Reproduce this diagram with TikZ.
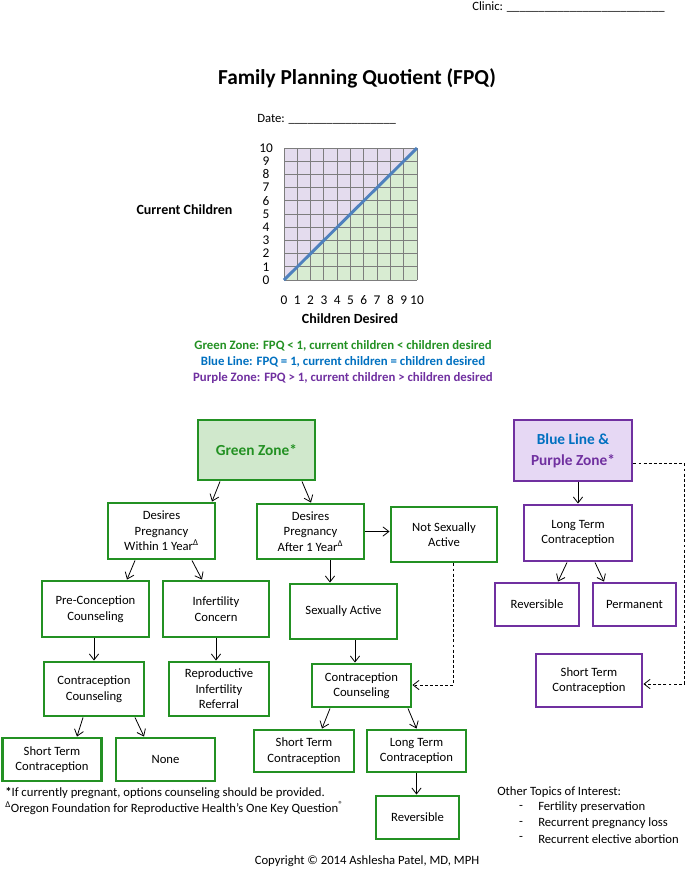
\documentclass[tikz,border=0pt]{standalone}
\usepackage{fontspec}
\setmainfont{Carlito}
\usepackage{xcolor}
\usetikzlibrary{arrows.meta}
\definecolor{zonegreen}{RGB}{35,145,35}
\definecolor{zonegreenfill}{RGB}{208,232,204}
\definecolor{zonepurple}{RGB}{112,48,160}
\definecolor{zonepurplefill}{RGB}{230,216,244}
\definecolor{lineblue}{RGB}{0,112,192}
\definecolor{chartblue}{RGB}{79,129,189}
\definecolor{chartpurple}{RGB}{228,220,238}
\definecolor{chartgreen}{RGB}{216,236,210}
\definecolor{gridgray}{RGB}{125,125,125}

\begin{document}
\begin{tikzpicture}[
  x=0.75pt, y=-0.75pt,
  box/.style={
    rectangle, line width=2.2pt, fill=white,
    align=center, inner sep=2pt,
    font=\fontsize{9.5}{11.6}\selectfont
  },
  gbox/.style={box,draw=zonegreen},
  pbox/.style={box,draw=zonepurple},
  zonebox/.style={font=\fontsize{11.5}{15.5}\selectfont\bfseries},
  sz/.style 2 args={minimum width=#1*0.75pt,minimum height=#2*0.75pt},
  txt/.style={inner sep=0pt,font=\fontsize{9.5}{11.6}\selectfont},
  axislabel/.style={inner sep=0pt,font=\fontsize{10.5}{12}\selectfont\bfseries},
  legend/.style={inner sep=0pt,font=\fontsize{9.6}{11}\selectfont\bfseries},
  arr/.style={-{Straight Barb[length=4.5pt,width=7pt]},line width=0.6pt},
  dotarr/.style={arr,dash pattern=on 2.2pt off 1.6pt}
]
\useasboundingbox (0,0) rectangle (685,869);

% header
\node[txt,anchor=west] (clinic) at (472,7)
  {Clinic: \_\_\_\_\_\_\_\_\_\_\_\_\_\_\_\_\_\_\_\_\_\_\_\_\_};
\node[inner sep=0pt,font=\fontsize{16}{19}\selectfont\bfseries] (title) at (357,78)
  {Family Planning Quotient (FPQ)};
\node[txt,anchor=west] (date) at (257,119)
  {Date: \_\_\_\_\_\_\_\_\_\_\_\_\_\_\_\_\_};

% FPQ chart
\begin{scope}[shift={(284,280)},x=9.975pt,y=9.9pt]
  \fill[chartpurple] (0,0) -- (0,10) -- (10,10) -- cycle;
  \fill[chartgreen] (0,0) -- (10,0) -- (10,10) -- cycle;
  \foreach \n in {0,...,10}{
    \draw[gridgray,line width=0.7pt] (\n,0) -- (\n,10);
    \draw[gridgray,line width=0.7pt] (0,\n) -- (10,\n);
  }
  \draw[chartblue,line width=2.2pt] (0,0) -- (10,10);
  \foreach \n in {0,...,10}{
    \node[txt,font=\fontsize{10}{12}\selectfont] (ytick\n) at (-1.35,\n) {\n};
    \node[txt,font=\fontsize{10}{12}\selectfont] (xtick\n) at (\n,-1.5) {\n};
  }
\end{scope}
\node[axislabel] (ylabel) at (184.5,210) {Current Children};
\node[axislabel] (xlabel) at (350,319) {Children Desired};

% legend
\node[legend,text=zonegreen] (leg1) at (343,346)
  {Green Zone: FPQ < 1, current children < children desired};
\node[legend,text=lineblue] (leg2) at (343,362)
  {Blue Line: FPQ = 1, current children = children desired};
\node[legend,text=zonepurple] (leg3) at (343,378)
  {Purple Zone: FPQ > 1, current children > children desired};

% green zone tree
\node[gbox,zonebox,fill=zonegreenfill,text=zonegreen,sz={117}{60}] (gz) at (256.5,450) {Green Zone*};
\node[gbox,sz={107}{56}] (within) at (161.5,531) {Desires\\Pregnancy\\Within 1 Year\textsuperscript{Δ}};
\node[gbox,sz={107}{55}] (after) at (310.5,531.5) {Desires\\Pregnancy\\After 1 Year\textsuperscript{Δ}};
\node[gbox,sz={106}{55}] (nsa) at (444,534.5) {Not Sexually\\Active};
\node[gbox,sz={107}{56}] (precon) at (95.5,609) {Pre-Conception\\Counseling};
\node[gbox,sz={106}{56}] (infert) at (216,609) {Infertility\\Concern};
\node[gbox,sz={107}{55}] (sexact) at (343.5,611.5) {Sexually Active};
\node[gbox,sz={100}{54}] (ccl) at (94,689) {Contraception\\Counseling};
\node[gbox,sz={100}{54}] (referral) at (219,689) {Reproductive\\Infertility\\Referral};
\node[gbox,sz={99}{43}] (stl) at (52,759.5) {Short Term\\Contraception};
\node[gbox,sz={99}{43}] (none) at (165.5,759.5) {None};
\node[gbox,sz={99}{43}] (ccc) at (361.5,685.5) {Contraception\\Counseling};
\node[gbox,sz={100}{42}] (stc) at (304,751) {Short Term\\Contraception};
\node[gbox,sz={99}{42}] (ltc) at (416.5,751) {Long Term\\Contraception};
\node[gbox,sz={83}{43}] (revc) at (417.5,817.5) {Reversible};

% blue line & purple zone tree
\node[pbox,zonebox,fill=zonepurplefill,sz={118}{61}] (pz) at (573,450.5)
  {\textcolor{lineblue}{Blue Line \&}\\\textcolor{zonepurple}{Purple Zone*}};
\node[pbox,sz={108}{56}] (ltp) at (578,533) {Long Term\\Contraception};
\node[pbox,sz={84}{43}] (revp) at (537,604.5) {Reversible};
\node[pbox,sz={83}{43}] (perm) at (634.5,604.5) {Permanent};
\node[pbox,sz={106}{53}] (stp) at (589,680.5) {Short Term\\Contraception};

\coordinate (rail) at (684,684);
\coordinate (bend) at (453,685);

\draw[arr] ([shift={(-36.5,0)}]gz.south) -- ([shift={(50.5,0)}]within.north);
\draw[arr] ([shift={(45.5,0)}]gz.south) -- ([shift={(0.5,0)}]after.north);
\draw[arr] ([shift={(-26.5,0)}]within.south) -- ([shift={(31.5,0)}]precon.north);
\draw[arr] ([shift={(30.5,0)}]within.south) -- ([shift={(-14,0)}]infert.north);
\draw[arr] ([shift={(19.5,0)}]after.south) -- ([shift={(-13.5,0)}]sexact.north);
\draw[arr] (after.east) -- (after.east -| nsa.west);
\draw[arr] (ccl.north |- precon.south) -- (ccl.north);
\draw[arr] (infert.south) -- (infert.south |- referral.north);
\draw[arr] ([shift={(-11,0)}]ccl.south) -- ([shift={(25,0)}]stl.north);
\draw[arr] ([shift={(41,0)}]ccl.south) -- ([shift={(-21.5,0)}]none.north);
\draw[arr] ([shift={(11.5,0)}]sexact.south) -- ([shift={(-6.5,0)}]ccc.north);
\draw[arr] ([shift={(-31.5,0)}]ccc.south) -- ([shift={(18,0)}]stc.north);
\draw[arr] ([shift={(46.5,0)}]ccc.south) -- (ltc.north);
\draw[arr] (ltc.south) -- (ltc.south |- revc.north);
\draw[arr] (ltp.north |- pz.south) -- (ltp.north);
\draw[arr] ([shift={(-11,0)}]ltp.south) -- ([shift={(21,0)}]revp.north);
\draw[arr] ([shift={(17,0)}]ltp.south) -- ([shift={(-30.5,0)}]perm.north);
\draw[dotarr] (nsa.south -| bend) -- (bend) -- (bend -| ccc.east);
\draw[dotarr] (pz.-12) -| (rail) -- (rail -| stp.east);

% notes
\node[txt,anchor=west] (note1) at (5,793)
  {\textbf{*}If currently pregnant, options counseling should be provided.};
\node[txt,anchor=west] (note2) at (5,808)
  {\textsuperscript{Δ}Oregon Foundation for Reproductive Health’s One Key Question\textsuperscript{®}};
\node[txt,anchor=west] (topics) at (497,792) {Other Topics of Interest:};
\foreach \t [count=\i] in {Fertility preservation,Recurrent pregnancy loss,Recurrent elective abortion}{
  \node[txt] (bullet\i) at (521,{792+15.6*\i}) {-};
  \node[txt,anchor=west] (topic\i) at (538,{792+15.6*\i}) {\t};
}
\node[txt] (copyright) at (367,861) {Copyright © 2014 Ashlesha Patel, MD, MPH};
\end{tikzpicture}
\end{document}
